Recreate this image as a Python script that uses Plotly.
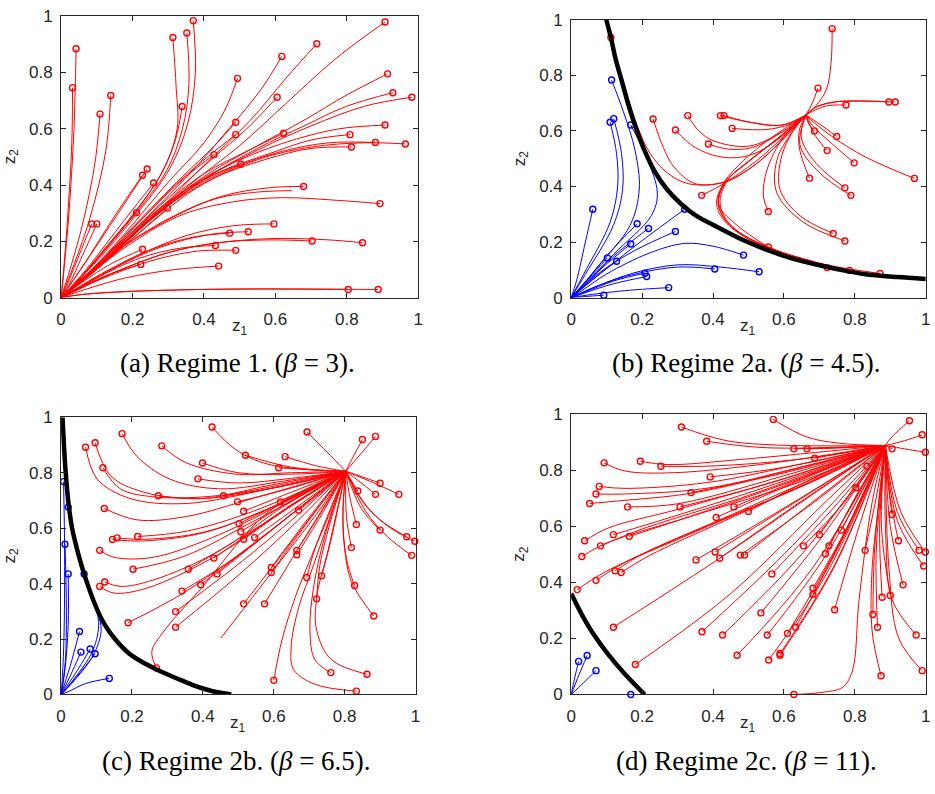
import plotly.graph_objects as go

# ---------------- data ----------------
TICKS = [0, 0.2, 0.4, 0.6, 0.8, 1]
TICK_TEXT = ["0", "0.2", "0.4", "0.6", "0.8", "1"]

ORIGIN = (0.0, 0.0)

# ---- panel (a): beta = 3, everything flows to the origin
a_red_paths = [
    [(0.042, 0.884), (0.036, 0.6), (0.022, 0.3), (0.008, 0.1)],
    [(0.032, 0.746), (0.03, 0.55), (0.018, 0.28), (0.006, 0.08)],
    [(0.109, 0.652), (0.095, 0.48), (0.06, 0.26), (0.02, 0.08)],
    [(0.139, 0.718), (0.125, 0.52), (0.08, 0.28), (0.025, 0.08)],
    [(0.313, 0.924), (0.322, 0.75), (0.325, 0.6), (0.285, 0.45), (0.21, 0.31), (0.12, 0.17), (0.04, 0.05)],
    [(0.352, 0.940), (0.358, 0.76), (0.34, 0.6), (0.295, 0.45), (0.215, 0.31), (0.12, 0.165), (0.04, 0.05)],
    [(0.370, 0.984), (0.376, 0.8), (0.355, 0.62), (0.305, 0.46), (0.22, 0.31), (0.125, 0.165), (0.04, 0.05)],
    [(0.339, 0.679), (0.32, 0.56), (0.28, 0.44), (0.2, 0.29), (0.11, 0.15), (0.04, 0.05)],
    [(0.494, 0.779), (0.46, 0.67), (0.4, 0.55), (0.3, 0.41), (0.18, 0.23), (0.07, 0.08)],
    [(0.618, 0.857), (0.56, 0.74), (0.47, 0.6), (0.36, 0.44), (0.22, 0.26), (0.09, 0.1)],
    [(0.716, 0.902), (0.63, 0.78), (0.53, 0.63), (0.4, 0.47), (0.25, 0.28), (0.1, 0.11)],
    [(0.907, 0.979), (0.77, 0.85), (0.63, 0.69), (0.5, 0.54), (0.35, 0.39), (0.2, 0.22), (0.08, 0.085)],
    [(0.914, 0.795), (0.8, 0.72), (0.68, 0.63), (0.55, 0.54), (0.4, 0.43), (0.25, 0.28), (0.1, 0.11)],
    [(0.929, 0.728), (0.8, 0.68), (0.68, 0.61), (0.55, 0.53), (0.4, 0.42), (0.25, 0.275), (0.1, 0.105)],
    [(0.982, 0.712), (0.85, 0.68), (0.7, 0.61), (0.56, 0.53), (0.4, 0.42), (0.25, 0.275), (0.1, 0.105)],
    [(0.605, 0.712), (0.52, 0.6), (0.42, 0.49), (0.28, 0.33), (0.12, 0.14)],
    [(0.489, 0.623), (0.43, 0.54), (0.34, 0.43), (0.2, 0.25), (0.08, 0.09)],
    [(0.489, 0.579), (0.42, 0.51), (0.32, 0.4), (0.19, 0.23), (0.07, 0.08)],
    [(0.623, 0.584), (0.52, 0.52), (0.4, 0.44), (0.26, 0.3), (0.11, 0.12)],
    [(0.428, 0.508), (0.35, 0.43), (0.25, 0.31), (0.12, 0.14)],
    [(0.503, 0.474), (0.4, 0.42), (0.28, 0.32), (0.13, 0.15)],
    [(0.907, 0.613), (0.78, 0.6), (0.65, 0.56), (0.52, 0.5), (0.38, 0.41), (0.24, 0.27), (0.1, 0.1)],
    [(0.809, 0.579), (0.7, 0.56), (0.58, 0.51), (0.45, 0.45), (0.3, 0.34), (0.14, 0.15)],
    [(0.880, 0.551), (0.75, 0.55), (0.62, 0.52), (0.48, 0.46), (0.33, 0.36), (0.15, 0.16)],
    [(0.964, 0.546), (0.85, 0.55), (0.7, 0.535), (0.55, 0.49), (0.38, 0.39), (0.2, 0.21), (0.08, 0.08)],
    [(0.813, 0.535), (0.7, 0.53), (0.57, 0.49), (0.42, 0.42), (0.27, 0.3), (0.12, 0.13)],
    [(0.228, 0.435), (0.15, 0.29), (0.06, 0.11)],
    [(0.241, 0.457), (0.16, 0.3), (0.06, 0.11)],
    [(0.259, 0.407), (0.18, 0.28), (0.07, 0.1)],
    [(0.211, 0.302), (0.14, 0.2), (0.06, 0.08)],
    [(0.298, 0.318), (0.2, 0.21), (0.09, 0.09)],
    [(0.086, 0.262), (0.05, 0.15), (0.015, 0.04)],
    [(0.100, 0.262), (0.06, 0.15), (0.02, 0.04)],
    [(0.679, 0.395), (0.58, 0.39), (0.45, 0.36), (0.3, 0.28), (0.15, 0.16), (0.05, 0.05)],
    [(0.893, 0.334), (0.78, 0.345), (0.62, 0.355), (0.48, 0.34), (0.33, 0.29), (0.17, 0.17), (0.05, 0.05)],
    [(0.596, 0.262), (0.48, 0.255), (0.35, 0.22), (0.2, 0.14), (0.08, 0.055)],
    [(0.472, 0.229), (0.37, 0.215), (0.25, 0.17), (0.12, 0.09), (0.04, 0.03)],
    [(0.524, 0.234), (0.42, 0.225), (0.28, 0.18), (0.14, 0.1), (0.04, 0.03)],
    [(0.432, 0.185), (0.33, 0.175), (0.22, 0.14), (0.1, 0.07), (0.03, 0.02)],
    [(0.489, 0.168), (0.38, 0.165), (0.25, 0.13), (0.12, 0.07), (0.03, 0.02)],
    [(0.703, 0.201), (0.58, 0.205), (0.44, 0.195), (0.3, 0.16), (0.15, 0.09), (0.05, 0.03)],
    [(0.844, 0.195), (0.75, 0.205), (0.6, 0.21), (0.44, 0.195), (0.3, 0.16), (0.15, 0.09), (0.05, 0.03)],
    [(0.228, 0.172), (0.14, 0.12), (0.06, 0.055)],
    [(0.223, 0.118), (0.14, 0.085), (0.06, 0.04)],
    [(0.441, 0.112), (0.32, 0.1), (0.18, 0.07), (0.07, 0.03)],
    [(0.804, 0.029), (0.6, 0.031), (0.35, 0.028), (0.15, 0.02), (0.05, 0.01)],
    [(0.888, 0.029), (0.7, 0.03), (0.45, 0.03), (0.2, 0.022), (0.06, 0.011)],
]
a_red_plain = [
    [(0.646, 0.380), (0.55, 0.375), (0.43, 0.35), (0.29, 0.27), (0.14, 0.15), (0.05, 0.05)],
]

# ---- panel (b): beta = 4.5
b_attr = (0.662, 0.657)
b_sep_x = [0.099, 0.112, 0.125, 0.142, 0.16, 0.18, 0.205, 0.235, 0.27, 0.31, 0.352, 0.412,
           0.48, 0.556, 0.62, 0.691, 0.76, 0.83, 0.92, 1.0]
b_sep_y = [1.0, 0.936, 0.86, 0.783, 0.70, 0.62, 0.535, 0.455, 0.39, 0.337, 0.295, 0.254,
           0.21, 0.17, 0.142, 0.119, 0.1, 0.084, 0.074, 0.067]
b_blue_paths = [
    [(0.061, 0.318), (0.04, 0.2), (0.015, 0.06)],
    [(0.114, 0.783), (0.147, 0.67), (0.18, 0.53), (0.192, 0.39), (0.166, 0.26), (0.073, 0.108)],
    [(0.168, 0.621), (0.212, 0.506), (0.243, 0.377), (0.226, 0.295), (0.119, 0.155), (0.03, 0.035)],
    [(0.110, 0.631), (0.128, 0.518), (0.131, 0.4), (0.11, 0.272), (0.035, 0.084)],
    [(0.120, 0.644), (0.142, 0.518), (0.145, 0.389), (0.119, 0.26), (0.04, 0.084)],
    [(0.186, 0.266), (0.1, 0.15), (0.03, 0.04)],
    [(0.218, 0.249), (0.12, 0.15), (0.03, 0.04)],
    [(0.32, 0.318), (0.2, 0.205), (0.1, 0.105)],
    [(0.294, 0.238), (0.18, 0.17), (0.08, 0.09)],
    [(0.168, 0.193), (0.09, 0.11), (0.03, 0.035)],
    [(0.102, 0.143), (0.05, 0.07)],
    [(0.128, 0.131), (0.06, 0.065)],
    [(0.486, 0.153), (0.4, 0.185), (0.32, 0.195), (0.22, 0.16), (0.1, 0.085), (0.03, 0.025)],
    [(0.53, 0.093), (0.42, 0.11), (0.3, 0.118), (0.18, 0.09), (0.08, 0.045)],
    [(0.405, 0.103), (0.3, 0.11), (0.18, 0.085), (0.08, 0.045)],
    [(0.208, 0.088), (0.12, 0.06), (0.04, 0.02)],
    [(0.213, 0.076), (0.12, 0.05), (0.04, 0.018)],
    [(0.275, 0.036), (0.15, 0.025), (0.05, 0.01)],
    [(0.092, 0.009), (0.04, 0.004)],
]
b_red_paths = [
    [(0.112, 0.936), (0.146, 0.783), (0.186, 0.62), (0.222, 0.52), (0.27, 0.45), (0.33, 0.41), (0.43, 0.415), (0.51, 0.47), (0.59, 0.56)],
    [(0.231, 0.643), (0.26, 0.54), (0.29, 0.47), (0.35, 0.41), (0.43, 0.415), (0.51, 0.47), (0.59, 0.56)],
    [(0.329, 0.655), (0.36, 0.6), (0.4, 0.565), (0.5, 0.545), (0.6, 0.6)],
    [(0.294, 0.603), (0.35, 0.54), (0.43, 0.505), (0.51, 0.515), (0.6, 0.585)],
    [(0.387, 0.553), (0.44, 0.535), (0.51, 0.54), (0.6, 0.6)],
    [(0.421, 0.655), (0.5, 0.632), (0.59, 0.62)],
    [(0.431, 0.655), (0.51, 0.63), (0.6, 0.622)],
    [(0.454, 0.609), (0.55, 0.605), (0.62, 0.625)],
    [(0.368, 0.368), (0.43, 0.41), (0.52, 0.49), (0.6, 0.58)],
    [(0.736, 0.968), (0.733, 0.845), (0.72, 0.75), (0.69, 0.69)],
    [(0.696, 0.754), (0.68, 0.7)],
    [(0.775, 0.693), (0.72, 0.69), (0.68, 0.67)],
    [(0.896, 0.704), (0.8, 0.707), (0.74, 0.703), (0.69, 0.685)],
    [(0.914, 0.704), (0.81, 0.708), (0.745, 0.705), (0.692, 0.687)],
    [(0.686, 0.6), (0.67, 0.625)],
    [(0.749, 0.58), (0.7, 0.625)],
    [(0.722, 0.529), (0.69, 0.58), (0.67, 0.63)],
    [(0.798, 0.485), (0.73, 0.56), (0.68, 0.62)],
    [(0.968, 0.429), (0.83, 0.506), (0.74, 0.576), (0.685, 0.63)],
    [(0.672, 0.43), (0.645, 0.529), (0.643, 0.6)],
    [(0.772, 0.395), (0.691, 0.483), (0.649, 0.576)],
    [(0.789, 0.368), (0.7, 0.45), (0.645, 0.55)],
    [(0.556, 0.31), (0.542, 0.365), (0.552, 0.459), (0.598, 0.576)],
    [(0.739, 0.231), (0.645, 0.295), (0.589, 0.389), (0.593, 0.506), (0.626, 0.6)],
    [(0.772, 0.204), (0.654, 0.272), (0.58, 0.377), (0.58, 0.494), (0.62, 0.59)],
    [(0.556, 0.182), (0.468, 0.26), (0.418, 0.33), (0.425, 0.4), (0.468, 0.471), (0.552, 0.564)],
    [(0.722, 0.108), (0.6, 0.158), (0.5, 0.21), (0.43, 0.28), (0.41, 0.34), (0.43, 0.41), (0.5, 0.49), (0.58, 0.57)],
    [(0.785, 0.098), (0.65, 0.14), (0.52, 0.2), (0.44, 0.27), (0.415, 0.34), (0.435, 0.415), (0.5, 0.49), (0.58, 0.57)],
    [(0.871, 0.087), (0.7, 0.124), (0.55, 0.185), (0.45, 0.26), (0.42, 0.34), (0.44, 0.42), (0.505, 0.495), (0.58, 0.57)],
]
b_red_plain = [
    [(0.682, 0.131), (0.58, 0.17), (0.48, 0.23), (0.425, 0.3), (0.415, 0.36), (0.445, 0.43), (0.51, 0.5), (0.585, 0.575)],
]

# ---- panel (c): beta = 6.5
c_attr = (0.803, 0.805)
c_sep_x = [0.004, 0.008, 0.013, 0.02, 0.031, 0.05, 0.065, 0.074, 0.088, 0.104, 0.124, 0.152,
           0.19, 0.225, 0.262, 0.296, 0.332, 0.37, 0.41, 0.445, 0.48]
c_sep_y = [1.0, 0.9, 0.8, 0.7, 0.6, 0.5, 0.435, 0.4, 0.35, 0.3, 0.25, 0.2,
           0.15, 0.12, 0.095, 0.075, 0.055, 0.035, 0.018, 0.007, 0.0]
c_blue_paths = [
    [(0.007, 0.768), (0.01, 0.5), (0.008, 0.2), (0.003, 0.05)],
    [(0.02, 0.676), (0.042, 0.53), (0.075, 0.39), (0.102, 0.3), (0.113, 0.23), (0.09, 0.14), (0.03, 0.04)],
    [(0.065, 0.435), (0.09, 0.34), (0.106, 0.26), (0.09, 0.16), (0.03, 0.045)],
    [(0.011, 0.542), (0.015, 0.3), (0.012, 0.12)],
    [(0.02, 0.435), (0.02, 0.25), (0.01, 0.08)],
    [(0.052, 0.227), (0.025, 0.1)],
    [(0.056, 0.153), (0.025, 0.065)],
    [(0.082, 0.164), (0.04, 0.075)],
    [(0.096, 0.147), (0.045, 0.065)],
    [(0.136, 0.058), (0.07, 0.04), (0.02, 0.01)],
]
c_red_paths = [
    [(0.426, 0.965), (0.493, 0.883), (0.586, 0.83)],
    [(0.694, 0.947), (0.75, 0.875)],
    [(0.85, 0.92), (0.825, 0.86)],
    [(0.887, 0.931), (0.84, 0.86)],
    [(0.172, 0.941), (0.214, 0.859), (0.307, 0.777), (0.447, 0.742), (0.633, 0.771)],
    [(0.096, 0.908), (0.14, 0.789), (0.233, 0.73), (0.4, 0.707), (0.633, 0.754)],
    [(0.069, 0.892), (0.102, 0.777), (0.195, 0.707), (0.353, 0.689), (0.586, 0.742)],
    [(0.118, 0.818), (0.167, 0.742), (0.27, 0.712), (0.447, 0.718), (0.633, 0.76)],
    [(0.284, 0.897), (0.353, 0.836), (0.493, 0.795), (0.65, 0.8)],
    [(0.52, 0.863), (0.65, 0.82)],
    [(0.632, 0.858), (0.72, 0.825)],
    [(0.399, 0.835), (0.5, 0.8), (0.65, 0.795)],
    [(0.614, 0.818), (0.71, 0.81)],
    [(0.386, 0.778), (0.5, 0.763), (0.65, 0.78)],
    [(0.274, 0.717), (0.4, 0.707), (0.586, 0.754)],
    [(0.458, 0.717), (0.62, 0.75)],
    [(0.498, 0.695), (0.65, 0.745)],
    [(0.619, 0.695), (0.71, 0.75)],
    [(0.67, 0.665), (0.74, 0.735)],
    [(0.515, 0.661), (0.65, 0.73)],
    [(0.122, 0.671), (0.214, 0.63), (0.353, 0.642), (0.54, 0.707)],
    [(0.502, 0.616), (0.65, 0.71)],
    [(0.507, 0.587), (0.65, 0.7)],
    [(0.515, 0.56), (0.66, 0.69)],
    [(0.546, 0.566), (0.68, 0.69)],
    [(0.216, 0.57), (0.353, 0.589), (0.54, 0.66)],
    [(0.145, 0.559), (0.233, 0.554), (0.4, 0.583), (0.586, 0.671)],
    [(0.158, 0.565), (0.24, 0.56), (0.41, 0.588), (0.59, 0.673)],
    [(0.109, 0.52), (0.149, 0.495), (0.26, 0.495), (0.447, 0.577), (0.633, 0.695)],
    [(0.431, 0.492), (0.6, 0.64)],
    [(0.203, 0.452), (0.35, 0.5), (0.55, 0.63)],
    [(0.359, 0.452), (0.55, 0.6)],
    [(0.44, 0.435), (0.6, 0.6)],
    [(0.593, 0.458), (0.7, 0.64)],
    [(0.593, 0.44), (0.7, 0.63)],
    [(0.665, 0.52), (0.74, 0.67)],
    [(0.665, 0.504), (0.74, 0.66)],
    [(0.123, 0.406), (0.167, 0.39), (0.26, 0.413), (0.447, 0.519), (0.633, 0.683)],
    [(0.109, 0.39), (0.149, 0.366), (0.242, 0.384), (0.447, 0.507), (0.633, 0.671)],
    [(0.341, 0.373), (0.5, 0.5), (0.65, 0.65)],
    [(0.394, 0.396), (0.55, 0.55)],
    [(0.323, 0.299), (0.5, 0.47), (0.66, 0.64)],
    [(0.323, 0.243), (0.5, 0.43), (0.67, 0.63)],
    [(0.189, 0.259), (0.35, 0.37), (0.6, 0.6)],
    [(0.515, 0.327), (0.65, 0.55)],
    [(0.574, 0.327), (0.68, 0.55)],
    [(0.269, 0.096), (0.256, 0.155), (0.288, 0.225), (0.4, 0.39), (0.586, 0.66)],
    [(0.6, 0.051), (0.623, 0.196), (0.66, 0.349), (0.707, 0.501), (0.754, 0.642)],
    [(0.833, 0.012), (0.716, 0.037), (0.656, 0.09), (0.649, 0.172), (0.67, 0.313), (0.712, 0.466), (0.756, 0.63)],
    [(0.761, 0.079), (0.716, 0.125), (0.702, 0.231), (0.712, 0.384), (0.744, 0.571)],
    [(0.863, 0.073), (0.763, 0.125), (0.721, 0.231), (0.721, 0.349), (0.754, 0.525)],
    [(0.721, 0.345), (0.73, 0.466), (0.757, 0.61)],
    [(0.693, 0.422), (0.716, 0.525)],
    [(0.735, 0.428), (0.76, 0.55)],
    [(0.882, 0.283), (0.819, 0.407), (0.8, 0.525), (0.795, 0.65)],
    [(0.828, 0.393), (0.805, 0.489), (0.795, 0.642)],
    [(0.819, 0.53), (0.805, 0.642)],
    [(0.833, 0.613), (0.815, 0.71)],
    [(0.9, 0.593), (0.847, 0.671)],
    [(0.975, 0.569), (0.9, 0.63), (0.85, 0.7)],
    [(0.998, 0.553), (0.93, 0.6), (0.86, 0.68)],
    [(0.989, 0.502), (0.92, 0.57), (0.86, 0.66)],
    [(0.9, 0.762), (0.85, 0.785)],
    [(0.887, 0.722), (0.84, 0.77)],
    [(0.953, 0.722), (0.87, 0.77)],
    [(0.837, 0.734), (0.82, 0.77)],
]
c_red_plain = [
    [(0.451, 0.204), (0.6, 0.45), (0.72, 0.65)],
]

# ---- panel (d): beta = 11
d_attr = (0.886, 0.888)
d_sep_x = [0.0, 0.03, 0.059, 0.105, 0.152, 0.207]
d_sep_y = [0.36, 0.285, 0.223, 0.142, 0.072, 0.0]
d_blue_paths = [
    [(0.021, 0.118), (0.01, 0.06)],
    [(0.045, 0.139), (0.022, 0.07)],
    [(0.07, 0.085), (0.035, 0.042)],
    [(0.168, 0.0), (0.08, 0.0)],
]
d_red_paths = [
    [(0.57, 0.981), (0.663, 0.919), (0.756, 0.896)],
    [(0.311, 0.954), (0.431, 0.907), (0.57, 0.89)],
    [(0.382, 0.903), (0.55, 0.88)],
    [(0.628, 0.876), (0.75, 0.88)],
    [(0.665, 0.876), (0.77, 0.88)],
    [(0.954, 0.976), (0.905, 0.919)],
    [(0.99, 0.926), (0.94, 0.905)],
    [(0.999, 0.864), (0.94, 0.876)],
    [(0.905, 0.876), (0.895, 0.882)],
    [(0.687, 0.843), (0.79, 0.866)],
    [(0.834, 0.814), (0.86, 0.85)],
    [(0.093, 0.826), (0.152, 0.797), (0.291, 0.791), (0.57, 0.826)],
    [(0.195, 0.832), (0.273, 0.82), (0.477, 0.838)],
    [(0.253, 0.814), (0.4, 0.815), (0.65, 0.84)],
    [(0.392, 0.776), (0.6, 0.81)],
    [(0.079, 0.742), (0.152, 0.735), (0.384, 0.756), (0.663, 0.826)],
    [(0.07, 0.715), (0.15, 0.715), (0.38, 0.735), (0.66, 0.815)],
    [(0.052, 0.681), (0.13, 0.69), (0.35, 0.72), (0.65, 0.81)],
    [(0.338, 0.72), (0.6, 0.79)],
    [(0.159, 0.669), (0.3, 0.68), (0.6, 0.78)],
    [(0.307, 0.669), (0.55, 0.75)],
    [(0.459, 0.669), (0.65, 0.77)],
    [(0.5, 0.653), (0.68, 0.77)],
    [(0.409, 0.631), (0.62, 0.75)],
    [(0.803, 0.737), (0.85, 0.82)],
    [(0.038, 0.548), (0.105, 0.594), (0.3, 0.66), (0.6, 0.77)],
    [(0.119, 0.57), (0.25, 0.62), (0.55, 0.74)],
    [(0.164, 0.564), (0.3, 0.62), (0.6, 0.75)],
    [(0.083, 0.53), (0.2, 0.59), (0.5, 0.71)],
    [(0.03, 0.492), (0.1, 0.54), (0.35, 0.64), (0.65, 0.76)],
    [(0.124, 0.441), (0.2, 0.5), (0.45, 0.64), (0.7, 0.78)],
    [(0.141, 0.435), (0.22, 0.495), (0.46, 0.635), (0.7, 0.775)],
    [(0.07, 0.407), (0.15, 0.47), (0.4, 0.61), (0.7, 0.77)],
    [(0.017, 0.374), (0.1, 0.44), (0.35, 0.58), (0.68, 0.76)],
    [(0.119, 0.24), (0.4, 0.47), (0.7, 0.73)],
    [(0.181, 0.107), (0.45, 0.36), (0.72, 0.69)],
    [(0.406, 0.508), (0.65, 0.7)],
    [(0.419, 0.486), (0.65, 0.69)],
    [(0.477, 0.497), (0.7, 0.7)],
    [(0.489, 0.497), (0.7, 0.705)],
    [(0.352, 0.48), (0.62, 0.68)],
    [(0.566, 0.43), (0.75, 0.68)],
    [(0.369, 0.224), (0.6, 0.5)],
    [(0.427, 0.212), (0.65, 0.5)],
    [(0.535, 0.291), (0.7, 0.55)],
    [(0.553, 0.212), (0.72, 0.5)],
    [(0.61, 0.218), (0.74, 0.5)],
    [(0.633, 0.24), (0.75, 0.52)],
    [(0.743, 0.302), (0.8, 0.55)],
    [(0.468, 0.14), (0.68, 0.45)],
    [(0.557, 0.123), (0.72, 0.43)],
    [(0.589, 0.14), (0.74, 0.45)],
    [(0.589, 0.146), (0.74, 0.455)],
    [(0.682, 0.379), (0.78, 0.6)],
    [(0.682, 0.357), (0.78, 0.59)],
    [(0.655, 0.53), (0.78, 0.7)],
    [(0.7, 0.57), (0.8, 0.74)],
    [(0.762, 0.586), (0.83, 0.75)],
    [(0.727, 0.53), (0.81, 0.72)],
    [(0.717, 0.502), (0.8, 0.7)],
    [(0.829, 0.514), (0.86, 0.7)],
    [(0.628, 0.0), (0.71, 0.008), (0.766, 0.026), (0.793, 0.084), (0.812, 0.339), (0.849, 0.687)],
    [(0.851, 0.285), (0.855, 0.5), (0.87, 0.72)],
    [(0.864, 0.24), (0.86, 0.5), (0.873, 0.72)],
    [(0.877, 0.347), (0.87, 0.6)],
    [(0.9, 0.353), (0.875, 0.6)],
    [(0.874, 0.067), (0.849, 0.223), (0.849, 0.455), (0.868, 0.687)],
    [(0.973, 0.212), (0.905, 0.339), (0.887, 0.571)],
    [(0.99, 0.085), (0.924, 0.2), (0.896, 0.455)],
    [(0.936, 0.391), (0.9, 0.6)],
    [(0.905, 0.642), (0.893, 0.76)],
    [(0.923, 0.548), (0.9, 0.7)],
    [(0.981, 0.514), (0.92, 0.65)],
    [(0.994, 0.458), (0.92, 0.62)],
    [(0.999, 0.508), (0.93, 0.65)],
]

CAPTIONS = [
    "(a) Regime 1. (<i>β</i> = 3).",
    "(b) Regime 2a. (<i>β</i> = 4.5).",
    "(c) Regime 2b. (<i>β</i> = 6.5).",
    "(d) Regime 2c. (<i>β</i> = 11).",
]

# ---------------- layout geometry ----------------
W, H = 935, 794
# pixel boxes of the four axes: (left, right, top, bottom)
BOXES = [(56.7, 417.7, 7.3, 295.7), (572.3, 930.7, 11.0, 295.7),
         (56.7, 415.0, 418.3, 702.3), (572.3, 930.7, 415.0, 702.3)]
CAP_Y = [363, 363, 770, 770]

RED = "#ff0000"
BLUE = "#0000ff"
AXC = "#262626"
TICKFONT = dict(family="Liberation Sans, Arial, sans-serif", size=17, color=AXC)

fig = go.Figure()


def xy_of(paths, attractor):
    xs, ys = [], []
    for p in paths:
        for (x, y) in p:
            xs.append(x)
            ys.append(y)
        if attractor is not None:
            xs.append(attractor[0])
            ys.append(attractor[1])
        xs.append(None)
        ys.append(None)
    return xs, ys


def add_family(k, paths, attractor, color, plain=None):
    ax = "" if k == 0 else str(k + 1)
    allp = list(paths) + list(plain or [])
    xs, ys = xy_of(allp, attractor)
    fig.add_trace(go.Scatter(x=xs, y=ys, mode="lines", xaxis="x" + ax, yaxis="y" + ax,
                             line=dict(color=color, width=1, shape="spline", smoothing=1.0),
                             hoverinfo="skip"))
    fig.add_trace(go.Scatter(x=[p[0][0] for p in paths], y=[p[0][1] for p in paths],
                             mode="markers", xaxis="x" + ax, yaxis="y" + ax, cliponaxis=False,
                             marker=dict(symbol="circle-open", size=6, color=color,
                                         line=dict(width=1.4, color=color)),
                             hoverinfo="skip"))


def add_sep(k, xs, ys):
    ax = "" if k == 0 else str(k + 1)
    fig.add_trace(go.Scatter(x=xs, y=ys, mode="lines", xaxis="x" + ax, yaxis="y" + ax,
                             line=dict(color="black", width=4.5, shape="spline", smoothing=0.8),
                             hoverinfo="skip"))


# panel a
add_family(0, a_red_paths, ORIGIN, RED, a_red_plain)
# panel b
add_family(1, b_blue_paths, ORIGIN, BLUE)
add_family(1, b_red_paths, b_attr, RED, b_red_plain)
add_sep(1, b_sep_x, b_sep_y)
# panel c
add_family(2, c_blue_paths, ORIGIN, BLUE)
add_family(2, c_red_paths, c_attr, RED, c_red_plain)
add_sep(2, c_sep_x, c_sep_y)
# panel d
add_family(3, d_blue_paths, ORIGIN, BLUE)
add_family(3, d_red_paths, d_attr, RED)
add_sep(3, d_sep_x, d_sep_y)

layout = dict(width=W, height=H, margin=dict(l=0, r=0, t=0, b=0),
              paper_bgcolor="white", plot_bgcolor="white", showlegend=False)
annotations = []
for k, (l, r, t, b) in enumerate(BOXES):
    ax = "" if k == 0 else str(k + 1)
    xd = [l / W, r / W]
    yd = [1 - b / H, 1 - t / H]
    common = dict(range=[0, 1], showline=True, linecolor=AXC, linewidth=1, mirror="allticks",
                  ticks="inside", ticklen=5, tickcolor=AXC, tickwidth=1,
                  tickvals=TICKS, ticktext=TICK_TEXT, tickfont=TICKFONT,
                  showgrid=False, zeroline=False, fixedrange=True)
    layout["xaxis" + ax] = dict(domain=xd, anchor="y" + ax, ticklabelstandoff=6, **common)
    layout["yaxis" + ax] = dict(domain=yd, anchor="x" + ax, ticklabelstandoff=4, **common)
    annotations.append(dict(text="z<sub>1</sub>", xref="x" + ax + " domain", yref="paper",
                            x=0.5, y=1 - (b + 17) / H, xanchor="center", yanchor="top",
                            showarrow=False, font=dict(family=TICKFONT["family"], size=17, color=AXC)))
    annotations.append(dict(text="z<sub>2</sub>", xref="paper", yref="y" + ax + " domain",
                            x=(l - 38) / W, y=0.5, xanchor="right", yanchor="middle", textangle=-90,
                            showarrow=False, font=dict(family=TICKFONT["family"], size=17, color=AXC)))
    annotations.append(dict(text=CAPTIONS[k], xref="paper", yref="paper",
                            x=((l + r) / 2 - 2) / W, y=1 - CAP_Y[k] / H, xanchor="center", yanchor="middle",
                            showarrow=False, font=dict(family="Liberation Serif, Times New Roman, serif",
                                                       size=27, color="black")))
layout["annotations"] = annotations
fig.update_layout(**layout)
fig.write_html("out.html")
